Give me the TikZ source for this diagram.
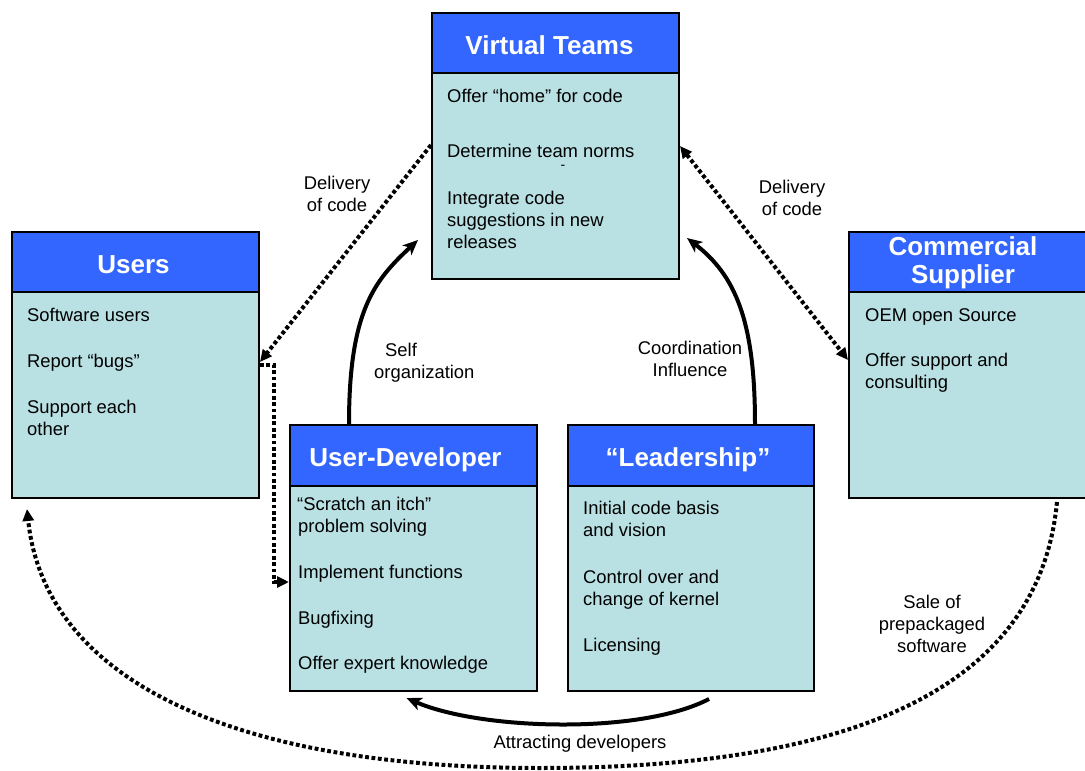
\documentclass[tikz,border=0pt]{standalone}
\usepackage{fontspec}
\setmainfont{Liberation Sans}
\usetikzlibrary{arrows.meta,calc}
\definecolor{hdrblue}{RGB}{51,102,255}
\definecolor{bodycyan}{RGB}{185,224,227}
\begin{document}
\begin{tikzpicture}[x=1pt,y=-1pt,
  hdr/.style={draw=black, line width=2pt, fill=hdrblue, text=white, anchor=north west,
    minimum width=247pt, minimum height=60pt, inner sep=0pt,
    font=\bfseries\fontsize{26}{28}\selectfont, text height=22pt, text depth=0pt},
  hdrtext/.style={text=white, inner sep=0pt, align=center, font=\bfseries\fontsize{26}{28}\selectfont},
  body/.style={draw=black, line width=2pt, fill=bodycyan, anchor=north west,
    minimum width=247pt, minimum height=206pt, inner sep=0pt},
  item/.style={anchor=base west, inner sep=0pt, font=\fontsize{18.4}{22}\selectfont},
  lbl/.style={inner sep=0pt, align=center, font=\fontsize{18.4}{22}\selectfont},
  dotline/.style={draw=black, line width=4pt, dash pattern=on 3.8pt off 2.6pt},
  dottip/.style={-{Triangle[length=12pt,width=11pt]}},
  dottips/.style={{Triangle[length=12pt,width=11pt]}-{Triangle[length=12pt,width=11pt]}},
  solidarrow/.style={draw=black, line width=4pt, -{Stealth[length=15pt,width=13pt,inset=4pt]}},
]
\clip (0,0) rectangle (1085,771);
\fill[white] (0,0) rectangle (1085,771);

% Virtual Teams
\node[body] (vt-b) at (431,72) {};
\node[hdr] (vt-h) at (431,12) {Virtual Teams\hspace*{12pt}};
\node[item] (vt-1) at (447,102) {Offer “home” for code};
\node[item] (vt-2) at (447,157) {Determine team norms};
\node[inner sep=0pt, font=\fontsize{14}{16}\selectfont] (vt-d) at (563,167) {-};
\node[item] (vt-3) at (447,204) {Integrate code};
\node[item] (vt-4) at (447,226) {suggestions in new};
\node[item] (vt-5) at (447,248) {releases};

% Users
\node[body] (us-b) at (11,291) {};
\node[hdr] (us-h) at (11,231) {Users\hspace*{4pt}};
\node[item] (us-1) at (27,321) {Software users};
\node[item] (us-2) at (27,367) {Report “bugs”};
\node[item] (us-3) at (27,413) {Support each};
\node[item] (us-4) at (27,435) {other};

% Commercial Supplier
\node[body] (cs-b) at (848,291) {};
\node[hdr] (cs-h) at (848,231) {};
\node[hdrtext] (cs-t) at (963,263) {Commercial\\Supplier};
\node[item] (cs-1) at (865,321) {OEM open Source};
\node[item] (cs-2) at (865,366) {Offer support and};
\node[item] (cs-3) at (865,388) {consulting};

% User-Developer
\node[body, minimum height=205pt] (ud-b) at (289,485) {};
\node[hdr, minimum height=61pt] (ud-h) at (289,424) {User-Developer\hspace*{16pt}};
\node[item] (ud-1) at (297,510) {“Scratch an itch”};
\node[item] (ud-2) at (298,532) {problem solving};
\node[item] (ud-3) at (298,578) {Implement functions};
\node[item] (ud-4) at (298,624) {Bugfixing};
\node[item] (ud-5) at (298,669) {Offer expert knowledge};

% Leadership
\node[body, minimum height=205pt, minimum width=246pt] (ld-b) at (567,485) {};
\node[hdr, minimum height=61pt, minimum width=246pt] (ld-h) at (567,424) {“Leadership”\hspace*{6pt}};
\node[item] (ld-1) at (583,514) {Initial code basis};
\node[item] (ld-2) at (583,536) {and vision};
\node[item] (ld-3) at (583,583) {Control over and};
\node[item] (ld-4) at (583,605) {change of kernel};
\node[item] (ld-5) at (583,651) {Licensing};

% labels
\node[lbl] (l-del1) at (337,194) {Delivery\\of code};
\node[lbl] (l-del2) at (792,198) {Delivery\\of code};
\node[lbl, align=left, anchor=west] (l-self) at (374,363) {\hspace*{11pt}Self\\organization};
\node[lbl] (l-coord) at (690,359) {Coordination\\Influence};
\node[lbl] (l-sale) at (932,624) {Sale of\\prepackaged\\software};
\node[lbl, anchor=base] (l-attr) at (580,748) {Attracting developers};

% connectors
\draw[dotline, dottip] ($(vt-b.north west)+(0,73)$) -- ($(us-b.north east)+(0,71)$);
\draw[dotline, dottip] ($(us-b.north east)+(0,74)$) -- ++(14,0) |- ($(ud-b.north west)+(0,97)$);
\draw[dotline, dottips] ($(vt-b.north east)+(0,74)$) -- ($(cs-b.north west)+(0,69)$);
\draw[solidarrow] ($(ud-h.north west)+(60,0)$) .. controls (349,310) and (375,280) .. ($(vt-b.north west)+(-13,168)$);
\draw[solidarrow] ($(ld-h.north west)+(188,0)$) .. controls (755,320) and (735,275) .. ($(vt-b.north east)+(7,166)$);
\draw[solidarrow] ($(ld-b.south)+(18,7)$) .. controls (640,735) and (480,730) .. ($(ud-b.south)+(-7,6)$);
\draw[dotline, dottip] ($(cs-b.south west)+(209,3)$) .. controls (1040,680) and (870,768) .. (540,768)
  .. controls (232,768) and (45,680) .. ($(us-b.south west)+(16,10)$);
\end{tikzpicture}
\end{document}
